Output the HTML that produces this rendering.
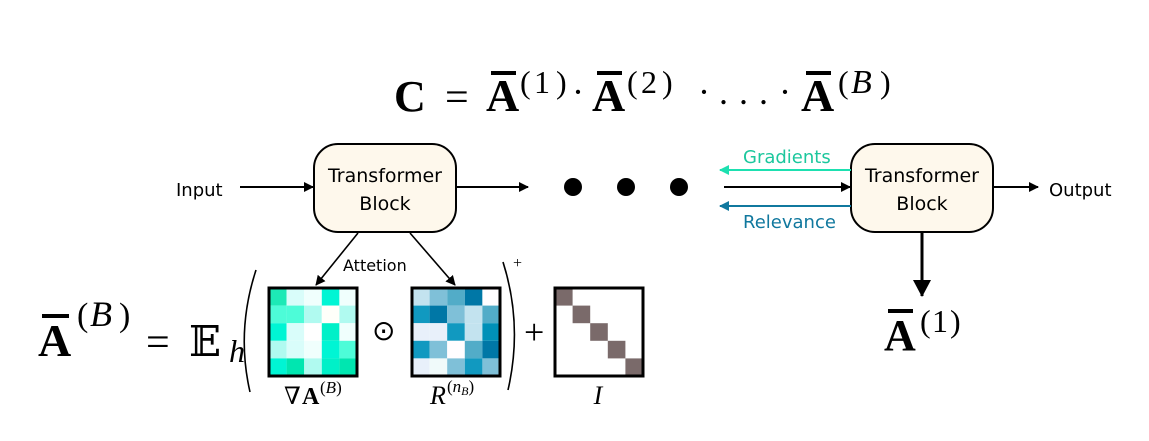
<!DOCTYPE html>
<html><head><meta charset="utf-8"><style>
html,body{margin:0;padding:0;background:#fff;}
svg{display:block;}
.m{font-family:"Liberation Serif","DejaVu Serif",serif;}
.s{font-family:"DejaVu Sans","Liberation Sans",sans-serif;}
</style></head><body>
<svg width="1149" height="441" viewBox="0 0 1149 441" xmlns="http://www.w3.org/2000/svg">
<defs>
<marker id="ah" markerWidth="10" markerHeight="10" refX="9" refY="5" orient="auto" markerUnits="userSpaceOnUse"><path d="M0,0 L10,5 L0,10 z" fill="#000"/></marker>
<marker id="ahg" markerWidth="10" markerHeight="10" refX="9" refY="5" orient="auto" markerUnits="userSpaceOnUse"><path d="M0,0 L10,5 L0,10 z" fill="#1de0b0"/></marker>
<marker id="ahb" markerWidth="10" markerHeight="10" refX="9" refY="5" orient="auto" markerUnits="userSpaceOnUse"><path d="M0,0 L10,5 L0,10 z" fill="#10789e"/></marker>
<marker id="ahL" markerWidth="18" markerHeight="18" refX="16" refY="9" orient="auto" markerUnits="userSpaceOnUse"><path d="M0,0 L17,9 L0,18 z" fill="#000"/></marker>
</defs>

<!-- top formula -->
<g class="m">
<text x="394" y="111" font-size="44" font-weight="bold">C</text>
<text x="445" y="111" font-size="42">=</text>
<text x="486" y="111" font-size="46" font-weight="bold">A</text>
<rect x="491" y="71" width="25" height="4" fill="#000"/>
<text x="520" y="93" font-size="32">(</text><text x="534" y="93" font-size="32">1</text><text x="556" y="93" font-size="32">)</text>
<text x="572" y="104" font-size="36">·</text>
<text x="592" y="111" font-size="46" font-weight="bold">A</text>
<rect x="597" y="71" width="25" height="4" fill="#000"/>
<text x="627" y="93" font-size="32">(</text><text x="641" y="93" font-size="32">2</text><text x="662" y="93" font-size="32">)</text>
<text x="698" y="104" font-size="36">·</text>
<text x="719" y="104" font-size="36">.</text><text x="739" y="104" font-size="36">.</text><text x="759" y="104" font-size="36">.</text>
<text x="779" y="104" font-size="36">·</text>
<text x="801" y="111" font-size="46" font-weight="bold">A</text>
<rect x="806" y="71" width="25" height="4" fill="#000"/>
<text x="838" y="93" font-size="32">(</text>
<text x="851" y="93" font-size="34" font-style="italic">B</text>
<text x="880" y="93" font-size="32">)</text>
</g>

<!-- left block -->
<rect x="314" y="144" width="142" height="88" rx="24" fill="#fef8ec" stroke="#000" stroke-width="2"/>
<text class="s" x="385" y="182" font-size="19" text-anchor="middle">Transformer</text>
<text class="s" x="385" y="210" font-size="19" text-anchor="middle">Block</text>
<text class="s" x="176" y="196" font-size="18">Input</text>
<line x1="240" y1="187" x2="313" y2="187" stroke="#000" stroke-width="2" marker-end="url(#ah)"/>
<line x1="456" y1="187" x2="528" y2="187" stroke="#000" stroke-width="2" marker-end="url(#ah)"/>
<circle cx="573" cy="187" r="9"/><circle cx="626" cy="187" r="9"/><circle cx="679" cy="187" r="9"/>

<!-- right block -->
<rect x="851" y="144" width="142" height="88" rx="24" fill="#fef8ec" stroke="#000" stroke-width="2"/>
<text class="s" x="922" y="182" font-size="19" text-anchor="middle">Transformer</text>
<text class="s" x="922" y="210" font-size="19" text-anchor="middle">Block</text>
<line x1="851" y1="170" x2="720" y2="170" stroke="#1de0b0" stroke-width="2" marker-end="url(#ahg)"/>
<text class="s" x="743" y="163" font-size="18" fill="#1cc79d">Gradients</text>
<line x1="724" y1="187" x2="850" y2="187" stroke="#000" stroke-width="2" marker-end="url(#ah)"/>
<line x1="851" y1="206" x2="720" y2="206" stroke="#10789e" stroke-width="2" marker-end="url(#ahb)"/>
<text class="s" x="743" y="228" font-size="18" fill="#10789e">Relevance</text>
<line x1="993" y1="187" x2="1038" y2="187" stroke="#000" stroke-width="2" marker-end="url(#ah)"/>
<text class="s" x="1049" y="196" font-size="18">Output</text>
<line x1="922" y1="232" x2="922" y2="296" stroke="#000" stroke-width="3" marker-end="url(#ahL)"/>
<g class="m">
<text x="884" y="350" font-size="44" font-weight="bold">A</text>
<rect x="888" y="309" width="25" height="4" fill="#000"/>
<text x="920" y="332" font-size="32">(</text><text x="932" y="332" font-size="32">1</text><text x="950" y="332" font-size="32">)</text>
</g>

<!-- attention arrows -->
<line x1="358" y1="233" x2="316" y2="285" stroke="#000" stroke-width="1.6" marker-end="url(#ah)"/>
<line x1="410" y1="233" x2="455" y2="285" stroke="#000" stroke-width="1.6" marker-end="url(#ah)"/>
<text class="s" x="343" y="271" font-size="16">Attetion</text>

<!-- left formula -->
<g class="m">
<text x="38" y="356" font-size="46" font-weight="bold">A</text>
<rect x="42" y="314" width="27" height="4" fill="#000"/>
<text x="77" y="326" font-size="34">(</text>
<text x="90" y="326" font-size="36" font-style="italic">B</text>
<text x="119" y="326" font-size="34">)</text>
<text x="146" y="356" font-size="42">=</text>
<text x="189" y="356" font-size="42" font-family="DejaVu Serif,serif">𝔼</text>
<text x="229" y="362" font-size="32" font-style="italic">h</text>
<path d="M256,270 Q236,331 250,392" fill="none" stroke="#000" stroke-width="1.6"/>
<path d="M503,262 Q523,325 508,390" fill="none" stroke="#000" stroke-width="1.6"/>
<text x="513" y="268" font-size="16">+</text>
<text x="524" y="344" font-size="36">+</text>
<text x="372" y="340" font-size="28" font-family="DejaVu Sans,sans-serif">⊙</text>
<text x="284" y="404" font-size="24">∇</text>
<text x="302" y="404" font-size="24" font-weight="bold">A</text>
<text x="320" y="393" font-size="17">(<tspan font-style="italic">B</tspan>)</text>
<text x="430" y="404" font-size="26" font-style="italic">R</text>
<text x="447" y="392" font-size="17">(<tspan font-style="italic">n<tspan font-size="12" dy="3">B</tspan></tspan><tspan dy="-3">)</tspan></text>
<text x="598" y="404" font-size="26" font-style="italic" text-anchor="middle">I</text>
</g>

<!-- matrix 1 -->
<g transform="translate(269,288)">
<rect x="0" y="0" width="17.6" height="17.6" fill="#1de9b6"/><rect x="17.6" y="0" width="17.6" height="17.6" fill="#d9fdfa"/><rect x="35.2" y="0" width="17.6" height="17.6" fill="#f0fffd"/><rect x="52.8" y="0" width="17.6" height="17.6" fill="#00f5d4"/><rect x="70.4" y="0" width="17.6" height="17.6" fill="#f0fffd"/>
<rect x="0" y="17.6" width="17.6" height="17.6" fill="#4dfcd8"/><rect x="17.6" y="17.6" width="17.6" height="17.6" fill="#4dfcd8"/><rect x="35.2" y="17.6" width="17.6" height="17.6" fill="#b0faf0"/><rect x="52.8" y="17.6" width="17.6" height="17.6" fill="#fffffa"/><rect x="70.4" y="17.6" width="17.6" height="17.6" fill="#b0faf0"/>
<rect x="0" y="35.2" width="17.6" height="17.6" fill="#00f5d4"/><rect x="17.6" y="35.2" width="17.6" height="17.6" fill="#d9fdfa"/><rect x="35.2" y="35.2" width="17.6" height="17.6" fill="#ffffff"/><rect x="52.8" y="35.2" width="17.6" height="17.6" fill="#00f0c8"/><rect x="70.4" y="35.2" width="17.6" height="17.6" fill="#f0fffd"/>
<rect x="0" y="52.8" width="17.6" height="17.6" fill="#b0faf0"/><rect x="17.6" y="52.8" width="17.6" height="17.6" fill="#d9fdfa"/><rect x="35.2" y="52.8" width="17.6" height="17.6" fill="#f0fffd"/><rect x="52.8" y="52.8" width="17.6" height="17.6" fill="#00f5d4"/><rect x="70.4" y="52.8" width="17.6" height="17.6" fill="#4dfcd8"/>
<rect x="0" y="70.4" width="17.6" height="17.6" fill="#00f5d4"/><rect x="17.6" y="70.4" width="17.6" height="17.6" fill="#00e6b0"/><rect x="35.2" y="70.4" width="17.6" height="17.6" fill="#b0faf0"/><rect x="52.8" y="70.4" width="17.6" height="17.6" fill="#00f0c8"/><rect x="70.4" y="70.4" width="17.6" height="17.6" fill="#00e6b0"/>
<rect x="0" y="0" width="88" height="88" fill="none" stroke="#000" stroke-width="3"/>
</g>
<!-- matrix 2 -->
<g transform="translate(412,288)">
<rect x="0" y="0" width="17.6" height="17.6" fill="#c3e3ef"/><rect x="17.6" y="0" width="17.6" height="17.6" fill="#7fc0d8"/><rect x="35.2" y="0" width="17.6" height="17.6" fill="#52acc8"/><rect x="52.8" y="0" width="17.6" height="17.6" fill="#0077a6"/><rect x="70.4" y="0" width="17.6" height="17.6" fill="#fffdff"/>
<rect x="0" y="17.6" width="17.6" height="17.6" fill="#1199c0"/><rect x="17.6" y="17.6" width="17.6" height="17.6" fill="#0077a6"/><rect x="35.2" y="17.6" width="17.6" height="17.6" fill="#7fc0d8"/><rect x="52.8" y="17.6" width="17.6" height="17.6" fill="#c3e3ef"/><rect x="70.4" y="17.6" width="17.6" height="17.6" fill="#52acc8"/>
<rect x="0" y="35.2" width="17.6" height="17.6" fill="#e8f0fa"/><rect x="17.6" y="35.2" width="17.6" height="17.6" fill="#e8f0fa"/><rect x="35.2" y="35.2" width="17.6" height="17.6" fill="#1199c0"/><rect x="52.8" y="35.2" width="17.6" height="17.6" fill="#c3e3ef"/><rect x="70.4" y="35.2" width="17.6" height="17.6" fill="#0090b8"/>
<rect x="0" y="52.8" width="17.6" height="17.6" fill="#1199c0"/><rect x="17.6" y="52.8" width="17.6" height="17.6" fill="#7fc0d8"/><rect x="35.2" y="52.8" width="17.6" height="17.6" fill="#fffdff"/><rect x="52.8" y="52.8" width="17.6" height="17.6" fill="#52acc8"/><rect x="70.4" y="52.8" width="17.6" height="17.6" fill="#0077a6"/>
<rect x="0" y="70.4" width="17.6" height="17.6" fill="#e8f0fa"/><rect x="17.6" y="70.4" width="17.6" height="17.6" fill="#f0fafa"/><rect x="35.2" y="70.4" width="17.6" height="17.6" fill="#7fc0d8"/><rect x="52.8" y="70.4" width="17.6" height="17.6" fill="#1199c0"/><rect x="70.4" y="70.4" width="17.6" height="17.6" fill="#7fc0d8"/>
<rect x="0" y="0" width="88" height="88" fill="none" stroke="#000" stroke-width="3"/>
</g>
<!-- identity -->
<g transform="translate(555,288)">
<rect x="0" y="0" width="88" height="88" fill="#fff"/>
<rect x="0" y="0" width="17.6" height="17.6" fill="#7a6a6a"/><rect x="17.6" y="17.6" width="17.6" height="17.6" fill="#7a6a6a"/><rect x="35.2" y="35.2" width="17.6" height="17.6" fill="#7a6a6a"/><rect x="52.8" y="52.8" width="17.6" height="17.6" fill="#7a6a6a"/><rect x="70.4" y="70.4" width="17.6" height="17.6" fill="#7a6a6a"/>
<rect x="0" y="0" width="88" height="88" fill="none" stroke="#000" stroke-width="3"/>
</g>
</svg>
</body></html>
